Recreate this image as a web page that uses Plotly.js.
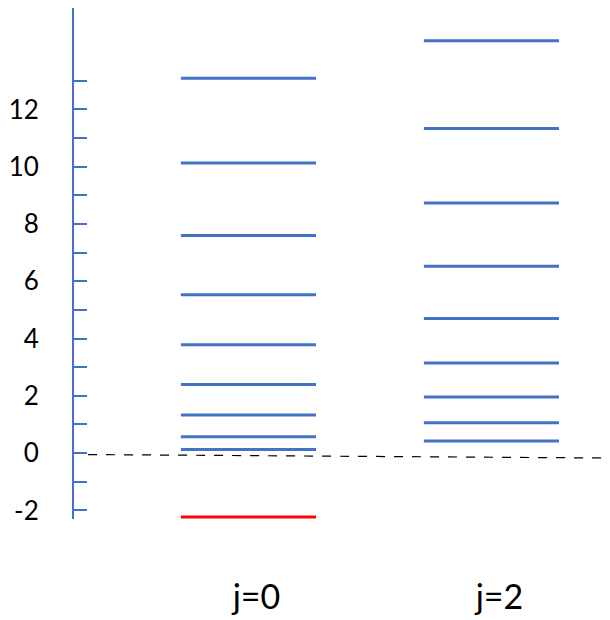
<!DOCTYPE html>
<html>
<head>
<meta charset="utf-8">
<script src="https://cdn.plot.ly/plotly-3.0.1.min.js"></script>
<style>
  html, body { margin: 0; padding: 0; background: #ffffff; }
  #chart { width: 610px; height: 620px; }
</style>
</head>
<body>
<div id="chart"></div>
<script>
// Energy levels for the two angular-momentum channels
const columns = ["j=0", "j=2"];
const levelsJ0 = [13.09, 10.13, 7.60, 5.53, 3.78, 2.40, 1.33, 0.57, 0.13];
const boundJ0 = [-2.23];
const levelsJ2 = [14.40, 11.33, 8.73, 6.52, 4.70, 3.15, 1.96, 1.06, 0.42];

// Energy axis ticks (labels on even values only)
const tickValues = [-2, -1, 0, 1, 2, 3, 4, 5, 6, 7, 8, 9, 10, 11, 12, 13];
const tickLabels = ["-2", "", "0", "", "2", "", "4", "", "6", "", "8", "", "10", "", "12", ""];

// Threshold reference line (x ends, y ends)
const thresholdX = [-0.66, 1.467];
const thresholdY = [-0.05, -0.17];

const blue = "#4472C4";
const halfWidth = 0.278;

// Build one horizontal segment per level, separated by nulls
function segments(colIndex, values) {
  const xs = [], ys = [];
  values.forEach(v => {
    xs.push(colIndex - halfWidth, colIndex + halfWidth, null);
    ys.push(v, v, null);
  });
  return { xs, ys };
}

const s0 = segments(0, levelsJ0);
const s0b = segments(0, boundJ0);
const s2 = segments(1, levelsJ2);

const traces = [
  { x: thresholdX, y: thresholdY, mode: "lines", type: "scatter",
    line: { color: "#000000", width: 1.2, dash: "dash" }, hoverinfo: "skip" },
  { x: s0.xs, y: s0.ys, mode: "lines", type: "scatter", connectgaps: false,
    line: { color: blue, width: 3 } },
  { x: s0b.xs, y: s0b.ys, mode: "lines", type: "scatter", connectgaps: false,
    line: { color: "#FF0000", width: 3 } },
  { x: s2.xs, y: s2.ys, mode: "lines", type: "scatter", connectgaps: false,
    line: { color: blue, width: 3 } }
];

const layout = {
  width: 610,
  height: 620,
  showlegend: false,
  paper_bgcolor: "#ffffff",
  plot_bgcolor: "#ffffff",
  margin: { l: 74, r: 0, t: 8, b: 101 },
  xaxis: {
    range: [-0.718, 1.488],
    tickvals: [0, 1],
    ticktext: columns,
    showline: false,
    showgrid: false,
    zeroline: false,
    ticks: "",
    ticklabelshift: 8,
    ticklabelstandoff: 55,
    tickfont: { family: "Lato, 'Open Sans', sans-serif", size: 34, color: "#000000" }
  },
  yaxis: {
    range: [-2.3, 15.54],
    tickvals: tickValues,
    ticktext: tickLabels,
    showline: true,
    linecolor: blue,
    linewidth: 2,
    ticks: "inside",
    ticklen: 13,
    tickwidth: 2,
    tickcolor: blue,
    showgrid: false,
    zeroline: false,
    ticklabelstandoff: 28,
    tickfont: { family: "Lato, 'Open Sans', sans-serif", size: 26, color: "#000000" }
  }
};

Plotly.newPlot("chart", traces, layout, { staticPlot: true, displayModeBar: false });
</script>
</body>
</html>
